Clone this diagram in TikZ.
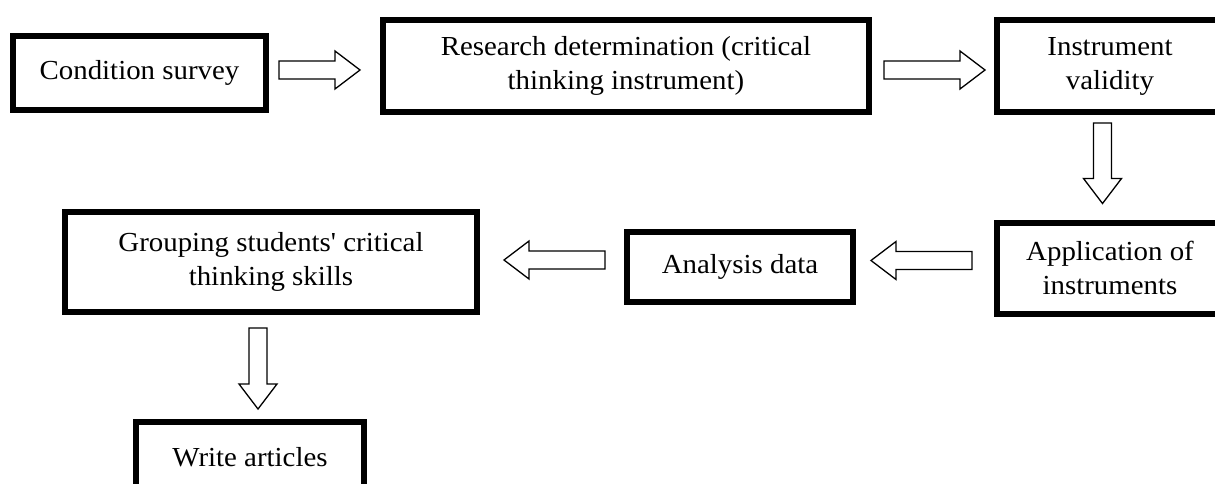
\documentclass[tikz,border=0pt]{standalone}
\usepackage{fontspec}
\setmainfont{Liberation Serif}[FakeStretch=1.05, Ligatures=TeXOff]
\usetikzlibrary{calc}
\tikzset{
  box/.style={draw, line width=6pt, inner sep=0pt, align=center,
    font=\fontsize{27.5}{34}\selectfont},
  blockarrow/.style={draw, line width=1.3pt, line join=miter, fill=white,
    to path={
      let \p1=(\tikztostart), \p2=(\tikztotarget), \p3=($(\p2)!25pt!(\p1)$) in
      ($(\p1)!9pt!90:(\p2)$) -- ($(\p3)!9pt!90:(\p2)$) -- ($(\p3)!19pt!90:(\p2)$) -- (\p2)
      -- ($(\p3)!19pt!-90:(\p2)$) -- ($(\p3)!9pt!-90:(\p2)$) -- ($(\p1)!9pt!-90:(\p2)$) -- cycle}}
}
\begin{document}
\begin{tikzpicture}[x=1pt, y=-1pt]
\useasboundingbox (0,0) rectangle (1215,484);
\node[box, minimum width=253pt, minimum height=74pt] (cond) at (139.5,73) {Condition survey};
\node[box, minimum width=486pt, minimum height=92pt] (research) at (626,66) {Research determination (critical\\ thinking instrument)};
\node[box, minimum width=226pt, minimum height=92pt] (valid) at (1110,66) {Instrument\\ validity};
\node[box, minimum width=226pt, minimum height=91pt] (appl) at (1110,268) {Application of\\ instruments};
\node[box, minimum width=226pt, minimum height=70pt] (anal) at (740,267) {Analysis data};
\node[box, minimum width=412pt, minimum height=100pt] (group) at (271,262) {Grouping students' critical\\ thinking skills};
\node[box, minimum width=228pt, minimum height=70pt] (write) at (250,457) {Write articles};

\draw[blockarrow] ($(cond.east)+(10,-3)$) to ($(research.west)+(-20,4)$);
\draw[blockarrow] ($(research.east)+(12,4)$) to ($(valid.west)+(-9,4)$);
\draw[blockarrow] ($(valid.south)+(-7.5,8)$) to ($(appl.north)+(-7.5,-16)$);
\draw[blockarrow] ($(appl.west)+(-22,-7.5)$) to ($(anal.east)+(15,-6.5)$);
\draw[blockarrow] ($(anal.west)+(-19,-7)$) to ($(group.east)+(24,-2)$);
\draw[blockarrow] ($(group.south)+(-13,13)$) to ($(write.north)+(8,-10)$);
\end{tikzpicture}
\end{document}
